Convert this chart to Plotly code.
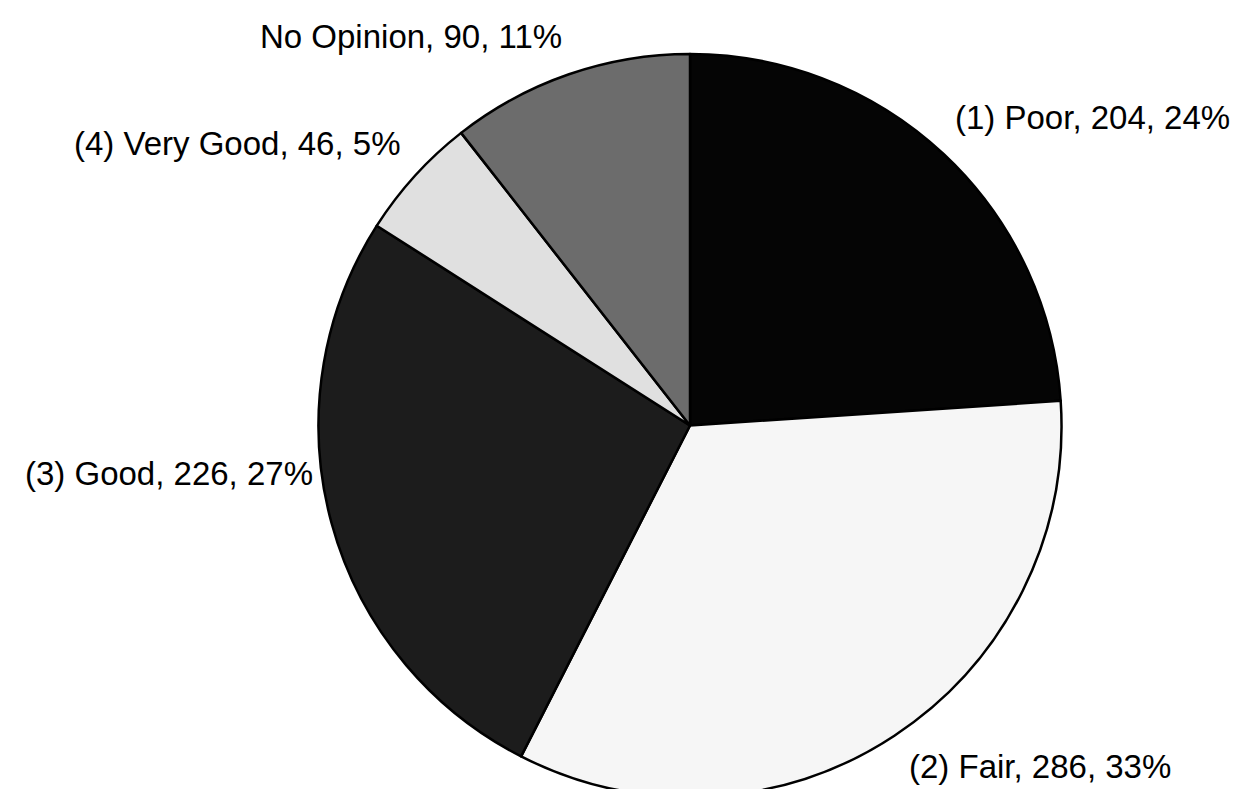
import plotly.graph_objects as go

# ---- data ----
categories = ["(1) Poor", "(2) Fair", "(3) Good", "(4) Very Good", "No Opinion"]
counts = [204, 286, 226, 46, 90]
percent_labels = ["24%", "33%", "27%", "5%", "11%"]

# ---- styles / layout ----
W, H = 1238, 789
colors = ["#050505", "#f6f6f6", "#1c1c1c", "#e0e0e0", "#6c6c6c"]
FONT = "Liberation Sans, Arial, sans-serif"
FONT_SIZE = 33

# label anchor positions in pixels (x, y, xanchor)
label_pos = [
    (1224, 110, "right"),
    (899, 758, "left"),
    (307, 465, "right"),
    (395, 135, "right"),
    (556, 28, "right"),
]

# pie placement (pixels): centre and radius
cx, cy, r = 682, 418, 372

fig = go.Figure(
    go.Pie(
        labels=categories,
        values=counts,
        sort=False,
        direction="clockwise",
        rotation=0,
        textinfo="none",
        hoverinfo="label+value+percent",
        marker=dict(colors=colors, line=dict(color="#000000", width=2.5)),
        domain=dict(
            x=[(cx - r) / W, (cx + r) / W],
            y=[max(0, 1 - (cy + r) / H), 1 - (cy - r) / H],
        ),
        showlegend=False,
    )
)

annotations = []
for cat, cnt, pct, (px, py, xa) in zip(categories, counts, percent_labels, label_pos):
    annotations.append(
        dict(
            text=f"{cat}, {cnt}, {pct}",
            x=px / W,
            y=1 - py / H,
            xref="paper",
            yref="paper",
            xanchor=xa,
            yanchor="middle",
            showarrow=False,
            font=dict(family=FONT, size=FONT_SIZE, color="#000000"),
        )
    )

fig.update_layout(
    width=W,
    height=H,
    margin=dict(l=0, r=0, t=0, b=0),
    paper_bgcolor="#ffffff",
    plot_bgcolor="#ffffff",
    annotations=annotations,
)

fig.write_html("out.html")
